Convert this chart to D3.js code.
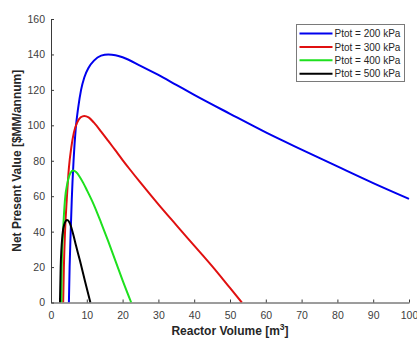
<!DOCTYPE html>
<html>
<head>
<meta charset="utf-8">
<script src="https://cdn.jsdelivr.net/npm/d3@7"></script>
<style>
  html, body { margin: 0; padding: 0; background: #fff; }
  svg { display: block; }
  text { font-family: "Liberation Sans", Arial, sans-serif; }
</style>
</head>
<body>
<svg id="chart" width="417" height="339"></svg>
<script>
// ---- Data ----
const seriesNames = ["Ptot = 200 kPa", "Ptot = 300 kPa", "Ptot = 400 kPa", "Ptot = 500 kPa"];
const seriesColors = ["#0000ee", "#e01010", "#1ee01e", "#000000"];

// Reactor volume [m^3] and NPV [$MM/annum]
const vol200 = [5.0, 5.2, 5.5, 5.8, 6.3, 6.9, 7.6, 8.4, 9.3, 10.5, 12, 14, 16, 18, 20, 25, 30, 35, 40, 50, 60, 70, 80, 90, 100];
const npv200 = [0, 20, 40, 58, 80, 98, 110, 120, 127, 132.5, 136.5, 139.3, 140, 139.6, 138.4, 133.6, 128.4, 122.8, 117.2, 106.5, 96, 86.3, 76.8, 67.4, 58.5];

const vol300 = [3.4, 3.6, 3.9, 4.4, 5.0, 5.7, 6.4, 7.3, 8.3, 9.3, 10.5, 12, 14, 16, 18, 20, 22, 25, 30, 35, 40, 45, 50, 53.3];
const npv300 = [0, 20, 39, 58, 76, 88, 96, 101.5, 104.5, 105.3, 104.5, 101.5, 96.5, 91.2, 85.8, 80.4, 75.2, 67.6, 55.4, 43.7, 32.1, 20.5, 8.2, 0];

const vol400 = [2.9, 3.0, 3.35, 3.9, 4.6, 5.4, 6.2, 7, 8, 9, 10, 12, 14, 16, 18, 20, 22.4];
const npv400 = [0, 20, 39, 58, 67.5, 73, 74.5, 73.6, 71, 67.5, 63.5, 55, 45, 34.5, 23.5, 12.5, 0];

const vol500 = [2.5, 2.7, 3.2, 3.7, 4.5, 5.2, 6.2, 7, 8.1, 9.5, 11];
const npv500 = [0, 20, 38, 44, 46.5, 45, 38.5, 32, 23.5, 12, 0];

const xTicks = [0, 10, 20, 30, 40, 50, 60, 70, 80, 90, 100];
const yTicks = [0, 20, 40, 60, 80, 100, 120, 140, 160];

const xLabel = "Reactor Volume [m";
const xLabelSup = "3";
const yLabel = "Net Present Value [$MM/annum]";

// ---- Build ----
const svg = d3.select("#chart");

const x = d3.scaleLinear().domain([0, 100]).range([51, 409]);
const y = d3.scaleLinear().domain([0, 160]).range([302.5, 19]);

const axisColor = "#3a3a3a";
const tickText = "#404040";

// Axes
const xAxis = svg.append("g")
  .attr("transform", `translate(0,${y(0)})`)
  .call(d3.axisBottom(x).tickValues(xTicks).tickSizeInner(-3).tickSizeOuter(0).tickPadding(9));
const yAxis = svg.append("g")
  .attr("transform", `translate(${x(0)},0)`)
  .call(d3.axisLeft(y).tickValues(yTicks).tickSizeInner(-3).tickSizeOuter(0).tickPadding(6));

[xAxis, yAxis].forEach(g => {
  g.select(".domain").attr("stroke", axisColor).attr("stroke-width", 1);
  g.selectAll(".tick line").attr("stroke", axisColor);
  g.selectAll(".tick text").attr("fill", tickText)
    .style("font-size", "10.5px")
    .style("font-family", "'Liberation Sans', Arial, sans-serif");
});

// Lines
const line = d3.line()
  .x(d => x(d[0]))
  .y(d => y(d[1]))
  .curve(d3.curveMonotoneX);

const series = [
  d3.zip(vol200, npv200),
  d3.zip(vol300, npv300),
  d3.zip(vol400, npv400),
  d3.zip(vol500, npv500)
];

svg.append("clipPath").attr("id", "plotclip")
  .append("rect")
  .attr("x", x(0)).attr("y", y(160))
  .attr("width", x(100) - x(0) + 2).attr("height", y(0) - y(160));

const plot = svg.append("g").attr("clip-path", "url(#plotclip)");
series.forEach((s, i) => {
  plot.append("path")
    .datum(s)
    .attr("fill", "none")
    .attr("stroke", seriesColors[i])
    .attr("stroke-width", 2)
    .attr("stroke-linejoin", "round")
    .attr("d", line);
});

// Axis labels
const xl = svg.append("text")
  .attr("x", 230).attr("y", 335)
  .attr("text-anchor", "middle")
  .attr("fill", "#262626")
  .style("font-size", "12px")
  .style("font-weight", "bold");
xl.append("tspan").text(xLabel);
xl.append("tspan").text(xLabelSup).attr("dy", -5).style("font-size", "8.5px");
xl.append("tspan").text("]").attr("dy", 5);

svg.append("text")
  .attr("transform", `translate(21,${(y(0) + y(160)) / 2}) rotate(-90)`)
  .attr("text-anchor", "middle")
  .attr("fill", "#262626")
  .style("font-size", "12px")
  .style("font-weight", "bold")
  .text(yLabel);

// Legend
const lg = svg.append("g");
lg.append("rect")
  .attr("x", 296.5).attr("y", 24.5)
  .attr("width", 108).attr("height", 57)
  .attr("fill", "#fff")
  .attr("stroke", "#7a7a7a")
  .attr("stroke-width", 1);

seriesNames.forEach((name, i) => {
  const yy = 33.5 + i * 13.4;
  lg.append("line")
    .attr("x1", 299.5).attr("x2", 332.5)
    .attr("y1", yy).attr("y2", yy)
    .attr("stroke", seriesColors[i])
    .attr("stroke-width", 2);
  lg.append("text")
    .attr("x", 334.5).attr("y", yy + 3.6)
    .attr("fill", "#262626")
    .style("font-size", "10px")
    .text(name);
});
</script>
</body>
</html>
